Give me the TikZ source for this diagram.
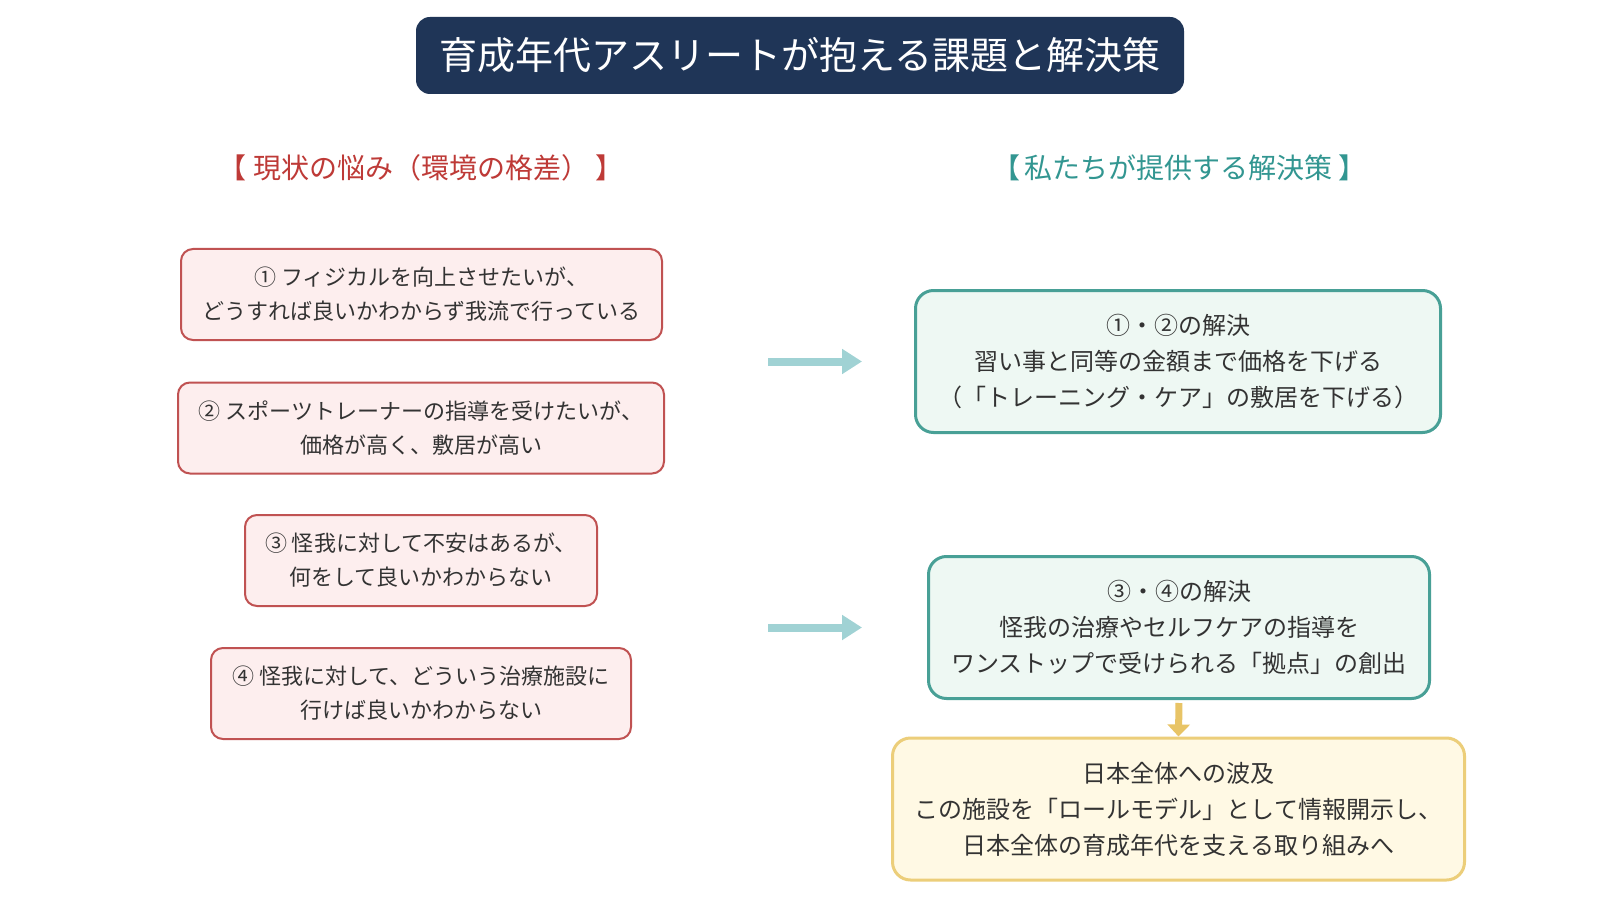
\documentclass[tikz,border=0pt]{standalone}
\usepackage{fontspec}
\setmainfont{Noto Sans CJK JP}
\definecolor{navyblue}{RGB}{31, 53, 87}
\definecolor{issuered}{RGB}{192, 82, 82}
\definecolor{issuepink}{RGB}{253, 238, 238}
\definecolor{headred}{RGB}{190, 58, 55}
\definecolor{headteal}{RGB}{50, 150, 145}
\definecolor{solteal}{RGB}{72, 160, 150}
\definecolor{solmint}{RGB}{238, 248, 243}
\definecolor{reachgold}{RGB}{236, 206, 122}
\definecolor{reachcream}{RGB}{255, 249, 228}
\definecolor{flowteal}{RGB}{160, 210, 212}
\definecolor{flowgold}{RGB}{232, 196, 102}
\definecolor{inkgray}{HTML}{333333}
\usetikzlibrary{arrows.meta, positioning}

\begin{document}
\begin{tikzpicture}[
    x=1pt, y=-1pt,
    title/.style={rectangle, rounded corners=14pt, fill=navyblue, text=white,
                  minimum width=768pt, minimum height=77pt, font=\fontsize{38}{38}\selectfont},
    headline/.style={font=\fontsize{28}{28}\selectfont, inner sep=0pt},
    issue/.style={rectangle, rounded corners=12pt, draw=issuered, fill=issuepink, line width=2pt,
                  align=center, minimum height=91pt, text=inkgray, font=\fontsize{22}{34}\selectfont},
    solution/.style={rectangle, rounded corners=18pt, draw=solteal, fill=solmint, line width=3pt,
                  align=center, minimum height=142pt, text=inkgray, font=\fontsize{24}{36}\selectfont},
    reach/.style={solution, draw=reachgold, fill=reachcream},
    flow/.style={-{Triangle[length=20pt, width=24pt]}, line width=8pt, color=flowteal},
    spread/.style={-{Triangle[length=12pt, width=22pt]}, line width=7pt, color=flowgold}
  ]
    \useasboundingbox (0,0) rectangle (1600,909);
    \fill[white] (0,0) rectangle (1600,909);

    \node[title] (title) at (800,55.5) {育成年代アスリートが抱える課題と解決策};

    \node[headline, text=headred]  (now)  at (421,168)  {【 現状の悩み（環境の格差） 】};
    \node[headline, text=headteal] (plan) at (1179,168) {【\kern5pt 私たちが提供する解決策\kern5pt】};

    \node[issue, minimum width=481pt] (iss1) at (421.5,294.5) {① フィジカルを向上させたいが、\\どうすれば良いかわからず我流で行っている};
    \node[issue, minimum width=486pt] (iss2) at (421,428)     {② スポーツトレーナーの指導を受けたいが、\\価格が高く、敷居が高い};
    \node[issue, minimum width=352pt] (iss3) at (421,560.5)   {③ 怪我に対して不安はあるが、\\何をして良いかわからない};
    \node[issue, minimum width=420pt] (iss4) at (421,693.5)   {④ 怪我に対して、どういう治療施設に\\行けば良いかわからない};

    \node[solution, minimum width=525pt] (sol1) at (1178,361.5) {①・②の解決\\習い事と同等の金額まで価格を下げる\\（「トレーニング・ケア」の敷居を下げる）};
    \node[solution, minimum width=501pt] (sol2) at (1179,627.5) {③・④の解決\\怪我の治療やセルフケアの指導を\\ワンストップで受けられる「拠点」の創出};
    \node[reach, minimum width=572pt]    (wide) at (1178.5,809) {日本全体への波及\\この施設を「ロールモデル」として情報開示し、\\日本全体の育成年代を支える取り組みへ};

    \draw[flow, shorten <=103pt, shorten >=52pt] (iss2.east |- sol1.west) -- (sol1.west);
    \draw[flow, shorten <=103pt, shorten >=65pt] (iss2.east |- sol2.west) -- (sol2.west);
    \draw[spread, shorten <=3pt] (sol2.south) -- (wide.north);
  \end{tikzpicture}
\end{document}
